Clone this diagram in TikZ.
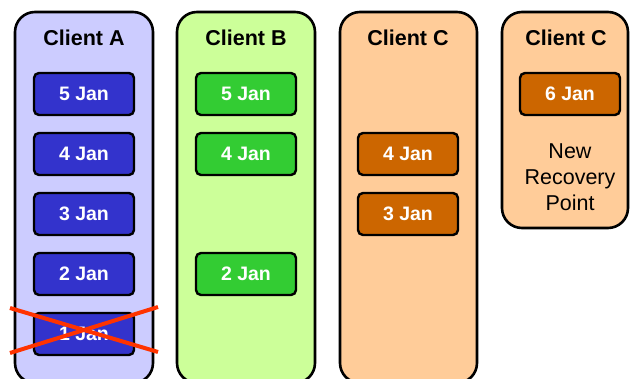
\documentclass[tikz,border=0pt]{standalone}
\usepackage{fontspec}
\setmainfont{Liberation Sans}
\definecolor{colA}{HTML}{CCCCFF}
\definecolor{boxA}{HTML}{3333CC}
\definecolor{colB}{HTML}{CCFF99}
\definecolor{boxB}{HTML}{33CC33}
\definecolor{colC}{HTML}{FFCC99}
\definecolor{boxC}{HTML}{CC6600}
\definecolor{crossred}{HTML}{FF3300}
\tikzset{
  column/.style={draw=black, line width=2.6pt, rounded corners=20pt},
  coltitle/.style={font=\fontsize{21.5}{24}\selectfont\bfseries, text=black},
  datebox/.style={draw=black, line width=2.4pt, rounded corners=5pt, minimum width=100pt, minimum height=42pt, inner sep=0pt, text=white, font=\fontsize{19.5}{22}\selectfont\bfseries},
}
\begin{document}
\begin{tikzpicture}[x=1pt,y=-1pt]
\useasboundingbox (0,0) rectangle (630,379);
\begin{scope}
\clip (0,0) rectangle (630,379);
% columns
\path[column, fill=colA] (15,12) rectangle (153,383);
\path[column, fill=colB] (177,12) rectangle (315,383);
\path[column, fill=colC] (340,12) rectangle (477,383);
\path[column, fill=colC] (502,12) rectangle (628,228);
% titles
\node[coltitle] (tA) at (84,38) {Client A};
\node[coltitle] (tB) at (246,38) {Client B};
\node[coltitle] (tC) at (408,38) {Client C};
\node[coltitle] (tC2) at (566,38) {Client C};
% client A
\node[datebox, fill=boxA] (a5) at (84,94) {5 Jan};
\node[datebox, fill=boxA] (a4) at (84,154) {4 Jan};
\node[datebox, fill=boxA] (a3) at (84,214) {3 Jan};
\node[datebox, fill=boxA] (a2) at (84,274) {2 Jan};
\node[datebox, fill=boxA] (a1) at (84,334) {1 Jan};
% client B
\node[datebox, fill=boxB] (b5) at (246,94) {5 Jan};
\node[datebox, fill=boxB] (b4) at (246,154) {4 Jan};
\node[datebox, fill=boxB] (b2) at (246,274) {2 Jan};
% client C
\node[datebox, fill=boxC] (c4) at (408,154) {4 Jan};
\node[datebox, fill=boxC] (c3) at (408,214) {3 Jan};
% client C new
\node[datebox, fill=boxC] (c6) at (570,94) {6 Jan};
\node[font=\fontsize{21.5}{26}\selectfont, align=center] (nrp) at (570,177) {New\\Recovery\\Point};
% cross
\coordinate (x1) at (10,308);
\coordinate (x2) at (158,352);
\coordinate (x3) at (10,353);
\coordinate (x4) at (158,307);
\draw[crossred, line width=4pt] (x1) -- (x2);
\draw[crossred, line width=4pt] (x3) -- (x4);
\end{scope}
\end{tikzpicture}
\end{document}
